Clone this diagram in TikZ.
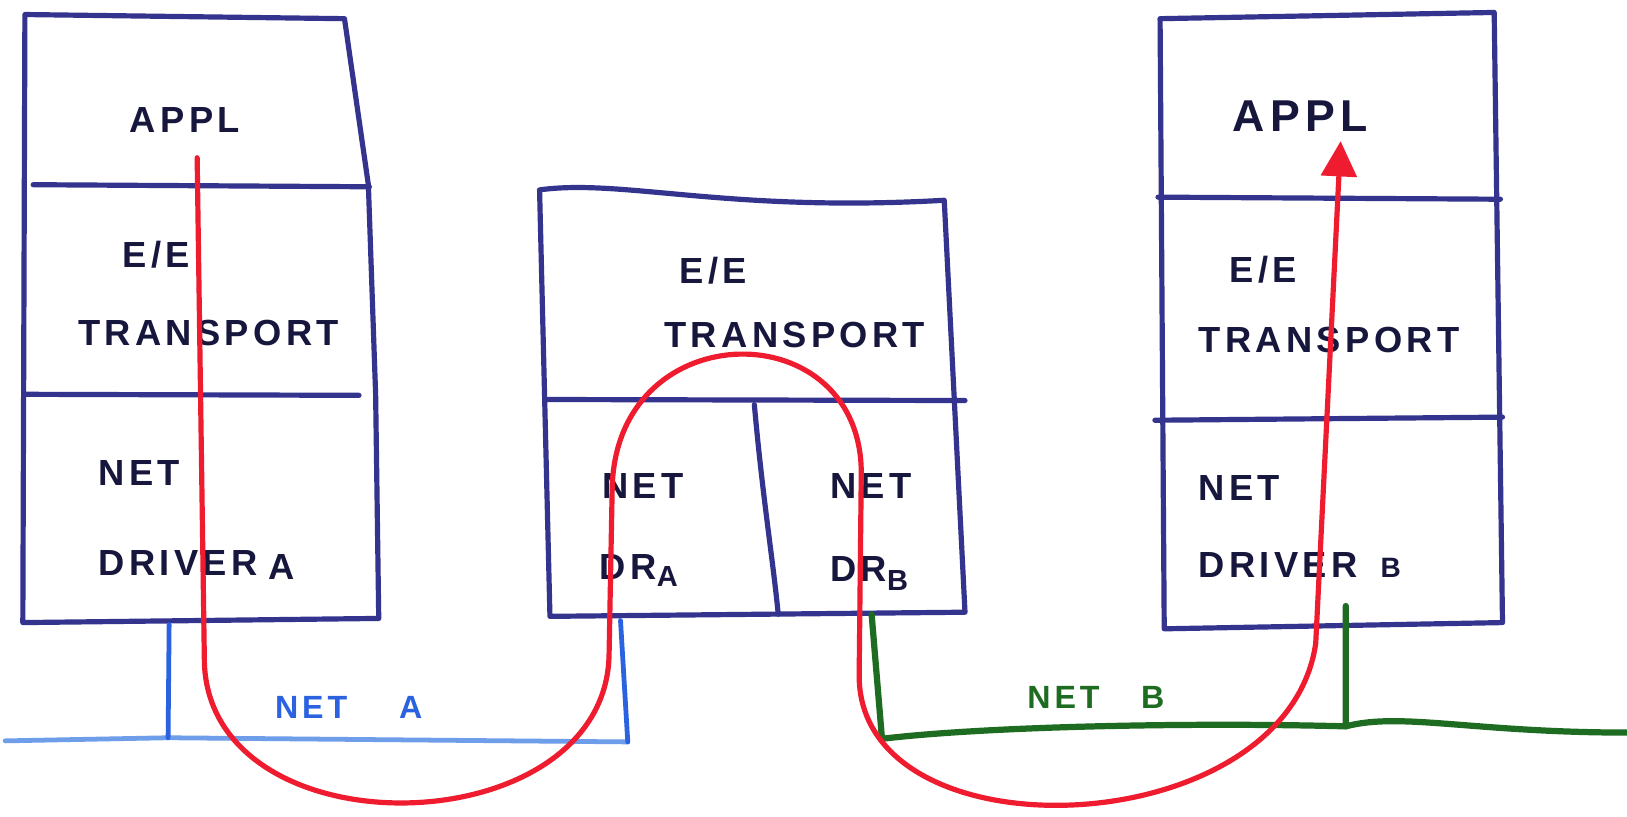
\documentclass[tikz,border=0pt]{standalone}
\usepackage{fontspec}
\setmainfont{Liberation Sans}
\newfontfamily\hand[LetterSpace=12]{Liberation Sans}
\usetikzlibrary{arrows.meta}
\definecolor{boxcol}{HTML}{34348E}
\definecolor{inkcol}{HTML}{17173E}
\definecolor{redcol}{HTML}{EE1C2E}
\definecolor{bluecol}{HTML}{2A62E0}
\definecolor{lightblue}{HTML}{6E9EEA}
\definecolor{greencol}{HTML}{1E6B22}

\begin{document}
\begin{tikzpicture}[x=1pt,y=-1pt,
  box/.style={draw=boxcol,line width=5pt,line join=round,line cap=round},
  lbl/.style={text=inkcol,font=\hand\bfseries\fontsize{35}{35}\selectfont,anchor=base west,inner sep=0pt},
  netlbl/.style={font=\hand\bfseries\fontsize{31}{31}\selectfont,anchor=base west,inner sep=0pt},
  flow/.style={draw=redcol,line width=5pt,line cap=round,line join=round},
  neta/.style={draw=bluecol,line width=4.6pt,line cap=round,line join=round},
  netb/.style={draw=greencol,line width=6pt,line cap=round,line join=round}]

\fill[white] (0,0) rectangle (1568,787);
\useasboundingbox (0,0) rectangle (1568,787);

% ---- left host: application, transport, driver A
\draw[box] (24,14) -- (332,18) -- (355,178) -- (362,380) -- (365,596) -- (22,600) -- cycle;
\draw[box] (32,178) -- (356,180);
\draw[box] (25,380) -- (346,381);

% ---- gateway in the middle: transport over two drivers
\draw[box] (520,183) .. controls (600,172) and (700,205) .. (910,193)
  -- (930,590) -- (530,594) -- cycle;
\draw[box] (525,385) -- (930,386);
\draw[box] (727,390) .. controls (735,480) and (745,540) .. (750,592);

% ---- right host: application, transport, driver B
\draw[box] (1118,18) -- (1440,12) -- (1448,600) -- (1122,606) -- cycle;
\draw[box] (1116,190) -- (1446,192);
\draw[box] (1113,405) -- (1448,402);

% ---- layer labels
\node[lbl] (applA) at (125,128) {APPL};
\node[lbl] (eeA) at (118,258) {E/E};
\node[lbl] (trA) at (75,333) {TRANSPORT};
\node[lbl] (netA1) at (95,468) {NET};
\node[lbl] (drvA) at (95,555) {DRIVER\kern10pt\raisebox{-3pt}{A}};

\node[lbl] (eeG) at (655,273) {E/E};
\node[lbl] (trG) at (640,335) {TRANSPORT};
\node[lbl] (netGa) at (580,480) {NET};
\node[lbl] (drGa) at (578,558) {DR\raisebox{-7pt}{\fontsize{28}{28}\selectfont A}};
\node[lbl] (netGb) at (800,480) {NET};
\node[lbl] (drGb) at (800,560) {DR\raisebox{-9pt}{\fontsize{28}{28}\selectfont B}};

\node[lbl,font=\hand\bfseries\fontsize{43}{43}\selectfont] (applB) at (1188,127) {APPL};
\node[lbl] (eeB) at (1185,272) {E/E};
\node[lbl] (trB) at (1155,340) {TRANSPORT};
\node[lbl] (netB1) at (1155,482) {NET};
\node[lbl] (drvB) at (1155,557) {DRIVER\hspace{22pt}{\fontsize{27}{27}\selectfont B}};

% ---- network A (blue)
\coordinate (aL) at (5,714);
\coordinate (aJ) at (162,711);
\coordinate (aR) at (605,715);
\coordinate (aUpL) at (163,602);
\coordinate (aUpR) at (598,598);
\draw[neta,draw=lightblue] (aL) -- (aJ) -- (aR);
\draw[neta] (aUpL) -- (aJ);
\draw[neta] (aUpR) -- (aR);
\node[netlbl,text=bluecol] (labA) at (265,692) {NET\hspace{50pt}A};

% ---- network B (green)
\coordinate (bUpL) at (840,592);
\coordinate (bC) at (850,712);
\coordinate (bJ) at (1297,700);
\coordinate (bUpR) at (1297,584);
\coordinate (bR) at (1568,706);
\draw[netb] (bUpL) -- (bC) .. controls (950,700) and (1150,696) .. (bJ) -- (bUpR);
\draw[netb] (bJ) .. controls (1350,686) and (1420,706) .. (bR);
\node[netlbl,text=greencol] (labB) at (990,683) {NET\hspace{40pt}B};

% ---- path of a message from one application to the other
\coordinate (src) at (190,152);
\coordinate (dst) at (1292,136);
\draw[flow,-{Triangle[width=34pt,length=34pt]}] (src) -- (197,640)
  .. controls (205,825) and (585,815) .. (587,630)
  -- (590,470)
  .. controls (594,300) and (834,300) .. (830,460)
  -- (828,650)
  .. controls (826,830) and (1240,815) .. (1268,620)
  -- (dst);

\end{tikzpicture}
\end{document}
